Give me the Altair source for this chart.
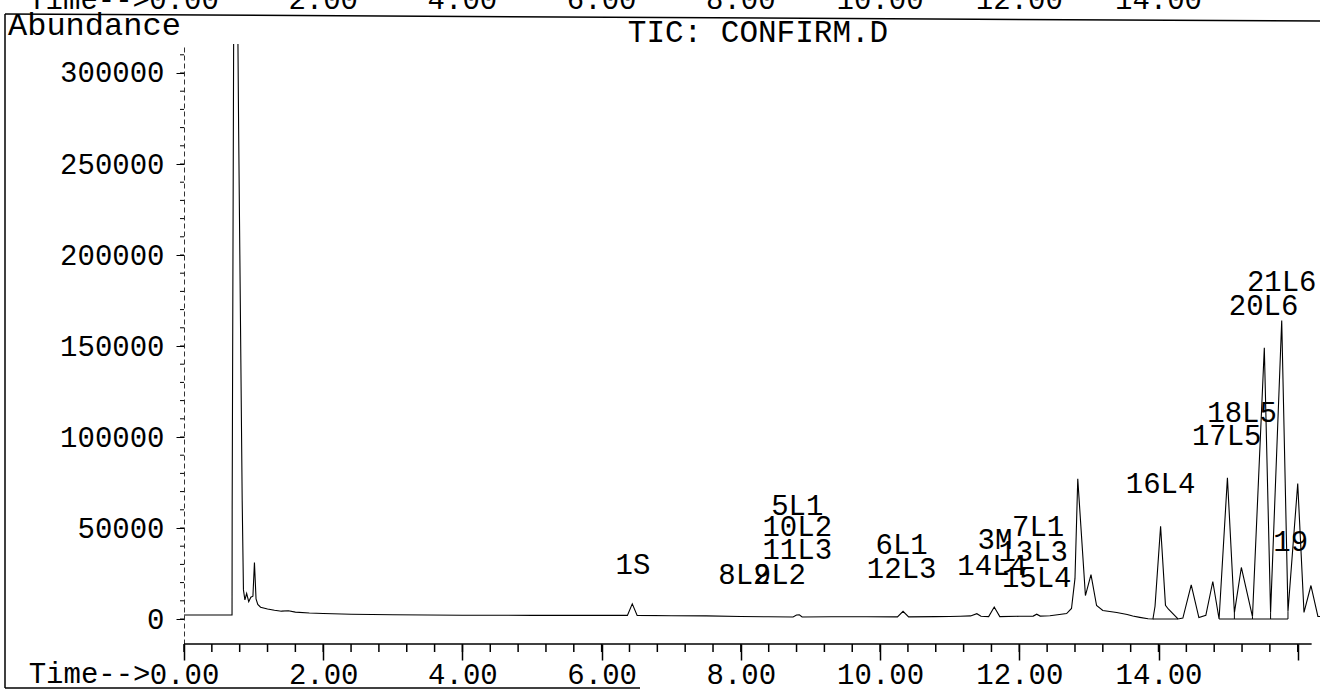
import altair as alt
import pandas as pd

MONO = "Liberation Mono"

# ---- chromatogram trace (retention time in min, abundance) ----
trace_time = [
    0.00, 0.69, 0.692, 0.713, 0.745, 0.775, 0.785, 0.836, 0.854, 0.875,
    0.90, 0.93, 0.96, 0.99, 1.012, 1.035, 1.06, 1.10, 1.20, 1.30,
    1.40, 1.50, 1.60, 1.80, 2.00, 2.40, 3.00, 4.00, 5.00, 6.00,
    6.37, 6.44, 6.51, 7.00, 7.50, 8.00, 8.40, 8.75, 8.80, 8.84,
    8.88, 9.30, 9.80, 10.25, 10.33, 10.41, 10.80, 11.00, 11.15, 11.30,
    11.39, 11.45, 11.56, 11.64, 11.72, 12.00, 12.20, 12.25, 12.30, 12.44,
    12.55, 12.68, 12.75, 12.80, 12.84, 12.95, 13.03, 13.11, 13.20, 13.40,
    13.55, 13.63, 13.73, 13.85, 13.92, 13.95, 14.03, 14.10, 14.14, 14.28,
    14.35, 14.47, 14.58, 14.68, 14.78, 14.87, 14.99, 15.09, 15.19, 15.35,
    15.52, 15.61, 15.77, 15.86, 16.00, 16.09, 16.19, 16.29, 16.32,
]
trace_abund = [
    2200, 2200, 60000, 316000, 345000, 316000, 269000, 65000, 16000, 10500,
    14000, 9500, 12000, 12500, 31000, 11000, 8000, 6500, 5500, 4800,
    4300, 4500, 3800, 3300, 3000, 2600, 2300, 2100, 2000, 2000,
    2000, 8300, 2000, 1800, 1700, 1400, 1200, 1100, 2200, 2300,
    1100, 1200, 1200, 1150, 4200, 1150, 1300, 1400, 1500, 1700,
    2900, 1500, 1300, 6600, 1300, 1500, 1600, 2650, 1600, 1800,
    2300, 3000, 5800, 22300, 77000, 12900, 24400, 7400, 4700, 3600,
    2500, 1600, 900, 100, 0, 7000, 51000, 7500, 5500, 0,
    500, 18700, 800, 2000, 20600, 0, 77600, 3400, 28300, 1300,
    149000, 3500, 164000, 4100, 74400, 3600, 18400, 1400, 1400,
]

# ---- peak labels ----
peak_names = ["1S", "5L1", "10L2", "11L3", "8L2", "9L2", "6L1", "12L3", "3M",
              "7L1", "13L3", "14L4", "15L4", "16L4", "17L5", "18L5", "20L6",
              "21L6", "19"]
peak_label_time = [6.45, 8.81, 8.81, 8.81, 8.05, 8.56, 10.31, 10.31, 11.65,
                   12.27, 12.20, 11.61, 12.25, 14.03, 14.98, 15.20, 15.51,
                   15.77, 15.90]
peak_label_abund = [24800, 57200, 45700, 33000, 19100, 19200, 35500, 22300,
                    38500, 45800, 32000, 24200, 17700, 69200, 95700, 108400,
                    167300, 180000, 37100]

# ---- integration marks (baselines and drop lines) ----
base_start = [13.92, 14.87]
base_end = [14.28, 15.86]
base_level = [0, 0]
drop_time = [15.09, 15.35, 15.61, 15.86]
drop_top = [3400, 1300, 3500, 4100]
drop_bottom = [0, 0, 0, 0]

# ---- axes ----
x_axis_extent = [0, 16.2]
x_major = [0, 2, 4, 6, 8, 10, 12, 14, 16]
x_minor = [round(0.4 * i, 1) for i in range(41)]
y_major = [0, 50000, 100000, 150000, 200000, 250000, 300000]
y_minor = [10000 * i for i in range(32)]
header_time = [0, 2, 4, 6, 8, 10, 12, 14]
header_text = ["0.00", "2.00", "4.00", "6.00", "8.00", "10.00", "12.00", "14.00"]

W, H = 1136, 600
xs = alt.Scale(domain=[0, 16.32], nice=False, zero=False)
ys = alt.Scale(domain=[-13736, 315934], nice=False, zero=False)

trace_df = pd.DataFrame({"t": trace_time, "A": trace_abund})
label_df = pd.DataFrame({"t": peak_label_time, "A": peak_label_abund, "name": peak_names})
base_df = pd.DataFrame({"t": base_start, "t2": base_end, "A": base_level})
drop_df = pd.DataFrame({"t": drop_time, "A": drop_top, "A2": drop_bottom})
xminor_df = pd.DataFrame({"t": x_minor})
yminor_df = pd.DataFrame({"A": y_minor})
xline_df = pd.DataFrame({"t": [x_axis_extent[0]], "t2": [x_axis_extent[1]]})
header_df = pd.DataFrame({"t": header_time, "txt": header_text})
one = pd.DataFrame({"k": [0]})

x_axis = alt.Axis(
    values=x_major, tickSize=16, tickWidth=1.5, tickColor="black",
    domain=False, grid=False,
    labelExpr="datum.value >= 16 ? '' : format(datum.value, '.2f')",
    labelFont=MONO, labelFontSize=29, labelColor="black", labelPadding=0,
    labelFlush=False, labelOverlap=False,
    title="Time-->", titleFont=MONO, titleFontSize=29, titleFontWeight="normal",
    titleColor="black", titleX=-34, titleY=38, titleAlign="right",
    titleBaseline="alphabetic",
)
y_axis = alt.Axis(
    values=y_major, tickSize=8, tickWidth=1, tickColor="black",
    domainColor="#333333", domainWidth=1, domainDash=[5, 3], grid=False,
    format="d", labelFont=MONO, labelFontSize=29, labelColor="black",
    labelPadding=12, labelFlush=False, labelOverlap=False, title="",
)


def X(field):
    return alt.X(field, scale=xs, axis=x_axis)


def Y(field):
    return alt.Y(field, scale=ys, axis=y_axis)


line = alt.Chart(trace_df).mark_line(color="black", strokeWidth=1.1, clip=True).encode(
    x=X("t:Q"), y=Y("A:Q"),
)

labels = alt.Chart(label_df).mark_text(
    font=MONO, fontSize=29, align="center", baseline="alphabetic", color="black"
).encode(x=X("t:Q"), y=Y("A:Q"), text="name:N")

base_lines = alt.Chart(base_df).mark_rule(color="black", strokeWidth=1).encode(
    x=X("t:Q"), x2="t2:Q", y=Y("A:Q"),
)
drop_lines = alt.Chart(drop_df).mark_rule(color="black", strokeWidth=1).encode(
    x=X("t:Q"), y=Y("A:Q"), y2="A2:Q",
)

# x axis line and minor ticks
x_line = alt.Chart(xline_df).mark_rule(color="black", strokeWidth=1.5).encode(
    x=X("t:Q"), x2="t2:Q", y=alt.value(H),
)
x_minor_ticks = alt.Chart(xminor_df).mark_rule(color="black", strokeWidth=1.5).encode(
    x=X("t:Q"), y=alt.value(H), y2=alt.value(H + 8),
)
y_minor_ticks = alt.Chart(yminor_df).mark_rule(color="black", strokeWidth=1).encode(
    y=Y("A:Q"), x=alt.value(-4), x2=alt.value(0),
)

# partially visible header of the preceding page
header = alt.Chart(header_df).mark_text(
    font=MONO, fontSize=29, align="center", baseline="alphabetic", color="black"
).encode(x=X("t:Q"), y=alt.value(-35), text="txt:N")
header_prefix = alt.Chart(one).mark_text(
    font=MONO, fontSize=29, align="right", baseline="alphabetic", color="black"
).encode(x=alt.value(-34), y=alt.value(-35), text=alt.value("Time-->"))

abundance = alt.Chart(one).mark_text(
    font=MONO, fontSize=32, align="left", baseline="alphabetic", color="black"
).encode(x=alt.value(-176), y=alt.value(-9), text=alt.value("Abundance"))
tic_title = alt.Chart(one).mark_text(
    font=MONO, fontSize=31, align="center", baseline="alphabetic", color="black"
).encode(x=alt.value(574), y=alt.value(-2), text=alt.value("TIC: CONFIRM.D"))

# page frame lines
frame_top = alt.Chart(one).mark_rule(color="black", strokeWidth=1.5).encode(
    x=alt.value(-179), x2=alt.value(W), y=alt.value(-30), y2=alt.value(-23))
frame_left = alt.Chart(one).mark_rule(color="black", strokeWidth=1.5).encode(
    x=alt.value(-179), y=alt.value(-30), y2=alt.value(H + 44))
frame_bottom = alt.Chart(one).mark_rule(color="black", strokeWidth=1.5).encode(
    x=alt.value(-179), x2=alt.value(456), y=alt.value(H + 44))

chart = alt.layer(
    line, labels, base_lines, drop_lines, x_line, x_minor_ticks, y_minor_ticks,
    header, header_prefix, abundance, tic_title,
    frame_top, frame_left, frame_bottom,
).properties(
    width=W, height=H,
    autosize=alt.AutoSizeParams(type="none"),
    padding={"left": 184, "top": 44, "right": 0, "bottom": 47},
    background="white",
).configure_view(strokeWidth=0)

chart.save("out.html", embed_options={"renderer": "svg", "actions": False})
